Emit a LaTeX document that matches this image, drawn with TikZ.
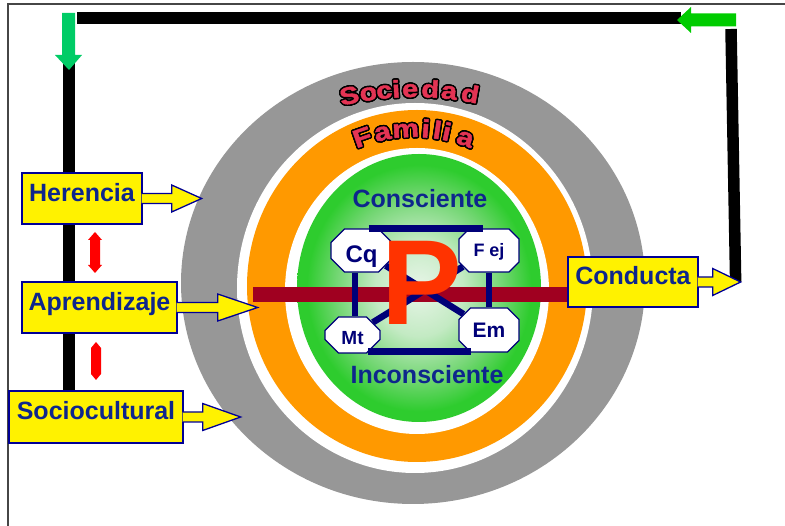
\documentclass[tikz,border=0pt]{standalone}
\usepackage{fontspec}
\setmainfont{Liberation Sans}
\newfontfamily\ringfont[FakeBold=2, FakeStretch=1.2]{Liberation Sans Bold}
\usepackage{contour}
\usetikzlibrary{calc}
\usetikzlibrary{shapes.misc}

\definecolor{labelblue}{RGB}{14,38,140}
\definecolor{boxline}{RGB}{0,0,150}
\definecolor{linkblue}{RGB}{0,0,120}
\definecolor{ringgray}{RGB}{151,151,151}
\definecolor{ringorange}{RGB}{255,153,0}
\definecolor{ringgreen}{RGB}{46,204,46}
\definecolor{glowin}{RGB}{232,245,232}
\definecolor{glowmid}{RGB}{195,234,195}
\definecolor{glowout}{RGB}{115,214,115}
\definecolor{barred}{RGB}{160,0,32}
\definecolor{pred}{RGB}{255,51,0}
\definecolor{rosered}{RGB}{228,52,84}
\definecolor{greenleft}{RGB}{0,204,102}
\definecolor{greenright}{RGB}{0,204,0}
\definecolor{framegray}{RGB}{70,70,70}

\pgfdeclareradialshading{greenglow}{\pgfpoint{0bp}{0bp}}{color(0bp)=(glowin); color(9bp)=(glowmid); color(17bp)=(glowout); color(23bp)=(ringgreen); color(50bp)=(ringgreen)}

\pgfdeclarelayer{rings}
\pgfdeclarelayer{links}
\pgfsetlayers{rings,links,main}

\contourlength{1.5pt}

\newcommand{\callarrow}[3]{%
  \filldraw[callout] ([shift={(-1,-5)}]#1.east) -- ++(#2+1,0) -- ++(0,-8.5)
    -- ++(#3,13.5) coordinate (#1tip) -- ++(-#3,13.5) -- ++(0,-8.5) -- ++(-#2-1,0);}

\begin{document}
\begin{tikzpicture}[x=1pt, y=-1pt,
	callbox/.style={draw=boxline, fill=yellow, line width=1.3pt, text=labelblue, font=\fontsize{25}{30}\selectfont\bfseries, inner sep=0pt, text height=18pt, text depth=12pt},
	callout/.style={draw=boxline, fill=yellow, line width=1.3pt},
	loopline/.style={line width=11.5pt},
	ringword/.style={anchor=base, inner sep=0pt, text=rosered},
	oct/.style={chamfered rectangle, chamfered rectangle xsep=10pt, draw=linkblue, line width=1.3pt, fill=white, inner sep=0pt, text=linkblue, text depth=0pt},
	link/.style={draw=linkblue, line width=6.5pt},
	layer/.style={text=labelblue, font=\fontsize{25}{30}\selectfont\bfseries, inner sep=0pt},
	updown/.style={fill=red}]

	\useasboundingbox (0,0) rectangle (785,526);

	\begin{pgfonlayer}{rings}
		\draw[framegray, line width=1.5pt] (8,526) -- (8,4) -- (785,4);
		\fill[ringgray] (413,283) ellipse [x radius=232, y radius=221];
		\fill[white] (415,288) ellipse [x radius=178, y radius=185];
		\fill[ringorange] (417,286) ellipse [x radius=170, y radius=176];
		\fill[white] (417,291) ellipse [x radius=132, y radius=143];
		\shade[shading=greenglow] (419,288) ellipse [x radius=122, y radius=134];
	\end{pgfonlayer}

	\coordinate (socc) at (414,400);
	\coordinate (famc) at (414,285);
	\foreach \ch/\ang [count=\i] in {S/102.0,o/98.45,c/95.5,i/93.3,e/90.7,d/87.0,a/83.5,d/79.6}
		\node[ringword, font=\fontsize{24}{24}\ringfont, rotate=\ang-90] (soc\i) at ($(socc)+(-\ang:303)$) {\contour{black}{\ch}};
	\foreach \ch/\ang [count=\i] in {F/109.3,a/101.7,m/93.1,i/85.7,l/81.4,i/77.9,a/70.7}
		\node[ringword, font=\fontsize{25}{25}\ringfont, rotate=\ang-90] (fam\i) at ($(famc)+(-\ang:148)$) {\contour{black}{\ch}};

	\node[callbox, minimum width=120pt, minimum height=51pt] (herencia) at (82,198.5) {Herencia};
	\node[callbox, minimum width=155pt, minimum height=51pt] (aprendizaje) at (99.5,307.5) {Aprendizaje};
	\node[callbox, minimum width=174pt, minimum height=52pt] (sociocultural) at (96,417) {Sociocultural};
	\node[callbox, minimum width=130pt, minimum height=50pt] (conducta) at (633,282) {Conducta};
	\callarrow{herencia}{29}{30}
	\callarrow{aprendizaje}{40}{40}
	\callarrow{sociocultural}{19}{38}
	\callarrow{conducta}{14}{28}

	\node[oct, minimum width=61pt, minimum height=43pt, text height=25pt, font=\fontsize{24}{24}\selectfont\bfseries] (cq) at (361.5,250.5) {Cq};
	\node[oct, minimum width=60pt, minimum height=43pt, text height=13pt, font=\fontsize{18}{18}\selectfont\bfseries] (fej) at (489,250.5) {F ej};
	\node[oct, minimum width=55pt, minimum height=36pt, text height=20pt, font=\fontsize{19}{19}\selectfont\bfseries] (mt) at (352.5,335) {Mt};
	\node[oct, minimum width=60pt, minimum height=44pt, text height=16pt, font=\fontsize{21}{21}\selectfont\bfseries] (em) at (489,330) {Em};

	\begin{pgfonlayer}{links}
		\draw[barred, line width=15pt] (253,295) coordinate (barL) -- (barL -| conducta.west);
		\draw[link] (cq) -- (em);
		\draw[link] (mt) -- (fej);
	\end{pgfonlayer}
	\draw[link] ([xshift=7pt]cq.north) -- ([xshift=-6pt]fej.north);
	\draw[link] ([xshift=-6.5pt]cq.south) -- ([xshift=2.5pt]mt.north);
	\draw[link] (fej.south) -- (em.north);
	\draw[link] ([xshift=15.5pt,yshift=2pt]mt.south) -- ([xshift=-18pt,yshift=1pt]em.south);

	\node[text=pred, font=\fontsize{121}{121}\selectfont\bfseries, inner sep=0pt] (pee) at (422,283) {P};
	\node[layer] (consc) at (420,198.5) {Consciente};
	\node[layer] (inconsc) at (427,375) {Inconsciente};

	\fill[updown] (95,232) -- (102,240) -- (100,240) -- (100,265) -- (102,265) -- (95,273) -- (88,265) -- (90,265) -- (90,240) -- (88,240) -- cycle;
	\fill[updown] (96,342) -- (101,348) -- (101,374) -- (96,380) -- (91,374) -- (91,348) -- cycle;

	\begin{pgfonlayer}{rings}
		\coordinate (rtop) at (731,29);
		\coordinate (rgtip) at (677,20);
		\coordinate (lgtip) at (69,70);
		\draw[loopline] ([xshift=-5pt]conductatip) -- (rtop);
		\draw[loopline] ([shift={(4,-2)}]rgtip) -- (77,18);
		\draw[loopline] ([yshift=8pt]lgtip) -- (lgtip |- sociocultural.north);
		\fill[greenright] (rgtip) -- (691,7) -- (691,13.5) -- (736,13.5) -- (736,26.5) -- (691,26.5) -- (691,33) -- cycle;
		\fill[greenleft] (lgtip) -- (55,55) -- (62,55) -- (62,13) -- (75,13) -- (75,55) -- (82,55) -- cycle;
	\end{pgfonlayer}
\end{tikzpicture}
\end{document}
